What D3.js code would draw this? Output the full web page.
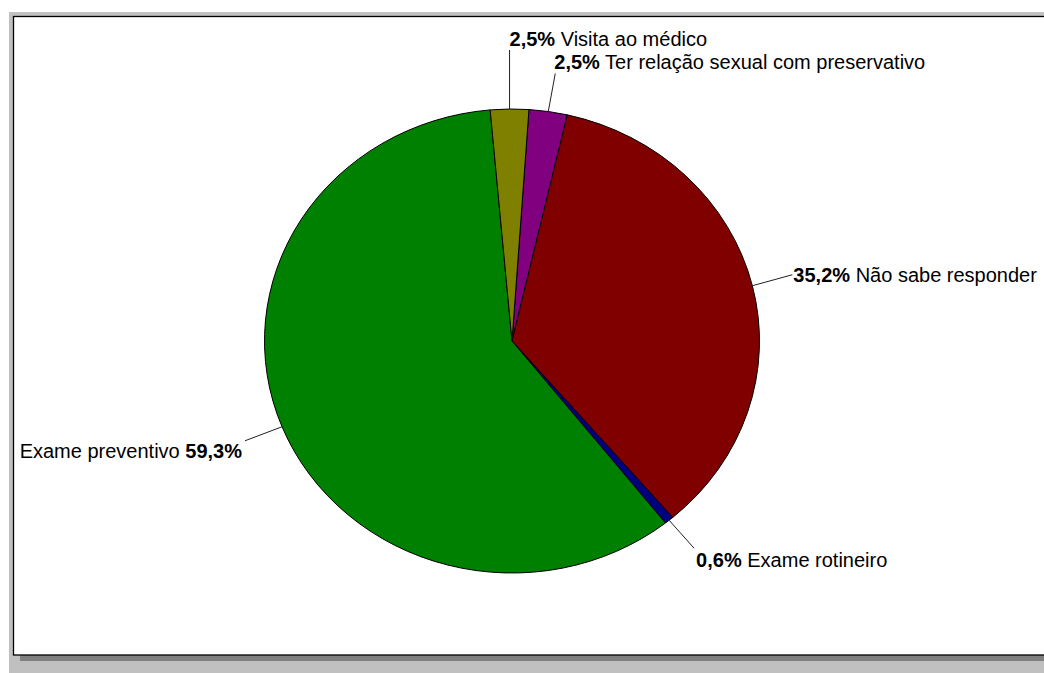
<!DOCTYPE html>
<html>
<head>
<meta charset="utf-8">
<script src="https://cdn.jsdelivr.net/npm/d3@7"></script>
<style>
  html, body { margin: 0; padding: 0; background: #ffffff; }
  svg { display: block; }
  text { font-family: "Liberation Sans", Arial, sans-serif; font-size: 20px; fill: #000; }
</style>
</head>
<body>
<svg id="chart" width="1044" height="673"></svg>
<script>
// Answers, in clockwise order starting just right of twelve o'clock
const categories = [
  "Ter relação sexual com preservativo",
  "Não sabe responder",
  "Exame rotineiro",
  "Exame preventivo",
  "Visita ao médico"
];
const percents = [2.5, 35.2, 0.6, 59.3, 2.5];
const percentLabels = ["2,5%", "35,2%", "0,6%", "59,3%", "2,5%"];
const sliceColors = ["#800080", "#800000", "#000080", "#008000", "#808000"];

// Leader line and text placement for each label (relative to the slice edge)
const labelLayout = [
  { lx: 7,   ly: -38, tx: -1, ty: -5,  anchor: "start", pctFirst: true },
  { lx: 40,  ly: -11, tx: 1,  ty: 7,   anchor: "start", pctFirst: true },
  { lx: 25,  ly: 28,  tx: 2,  ty: 19,  anchor: "start", pctFirst: true },
  { lx: -37, ly: 14,  tx: -3, ty: 17,  anchor: "end",   pctFirst: false },
  { lx: 0,   ly: -59, tx: 0,  ty: -4,  anchor: "start", pctFirst: true }
];

const width = 1044, height = 673;
const svg = d3.select("#chart");

// Frame: grey surround, drop shadow, white plot panel with black border
svg.append("rect").attr("x", 9).attr("y", 12).attr("width", width - 9).attr("height", height - 12).attr("fill", "#c0c0c0");
svg.append("rect").attr("x", 20).attr("y", 23).attr("width", width - 20).attr("height", 638).attr("fill", "#808080");
svg.append("rect").attr("x", 13.5).attr("y", 16.5).attr("width", width).attr("height", 638.5)
  .attr("fill", "#ffffff").attr("stroke", "#000").attr("stroke-width", 1.3);

// Elliptical pie
const cx = 512, cy = 341, rx = 247.5, ry = 232;
const startAngle = 0.0686;

const pie = d3.pie().sort(null).value(d => d)
  .startAngle(startAngle).endAngle(startAngle + 2 * Math.PI);
const arcs = pie(percents);
const arc = d3.arc().innerRadius(0).outerRadius(rx);

const pieG = svg.append("g").attr("transform", `translate(${cx},${cy}) scale(1,${ry / rx})`);
pieG.selectAll("path")
  .data(arcs)
  .join("path")
  .attr("d", arc)
  .attr("fill", (d, i) => sliceColors[i])
  .attr("stroke", "#000")
  .attr("stroke-width", 1)
  .attr("vector-effect", "non-scaling-stroke")
  .attr("stroke-linejoin", "round");

// Labels with leader lines
const labelG = svg.append("g");
arcs.forEach((d, i) => {
  const mid = (d.startAngle + d.endAngle) / 2;
  const ex = cx + Math.sin(mid) * rx;
  const ey = cy - Math.cos(mid) * ry;
  const L = labelLayout[i];
  const lx = ex + L.lx, ly = ey + L.ly;
  labelG.append("line")
    .attr("x1", ex).attr("y1", ey).attr("x2", lx).attr("y2", ly)
    .attr("stroke", "#222").attr("stroke-width", 1);
  const t = labelG.append("text")
    .attr("x", lx + L.tx).attr("y", ly + L.ty)
    .attr("text-anchor", L.anchor);
  if (L.pctFirst) {
    t.append("tspan").attr("font-weight", "bold").text(percentLabels[i]);
    t.append("tspan").text(" " + categories[i]);
  } else {
    t.append("tspan").text(categories[i] + " ");
    t.append("tspan").attr("font-weight", "bold").text(percentLabels[i]);
  }
});
</script>
</body>
</html>
